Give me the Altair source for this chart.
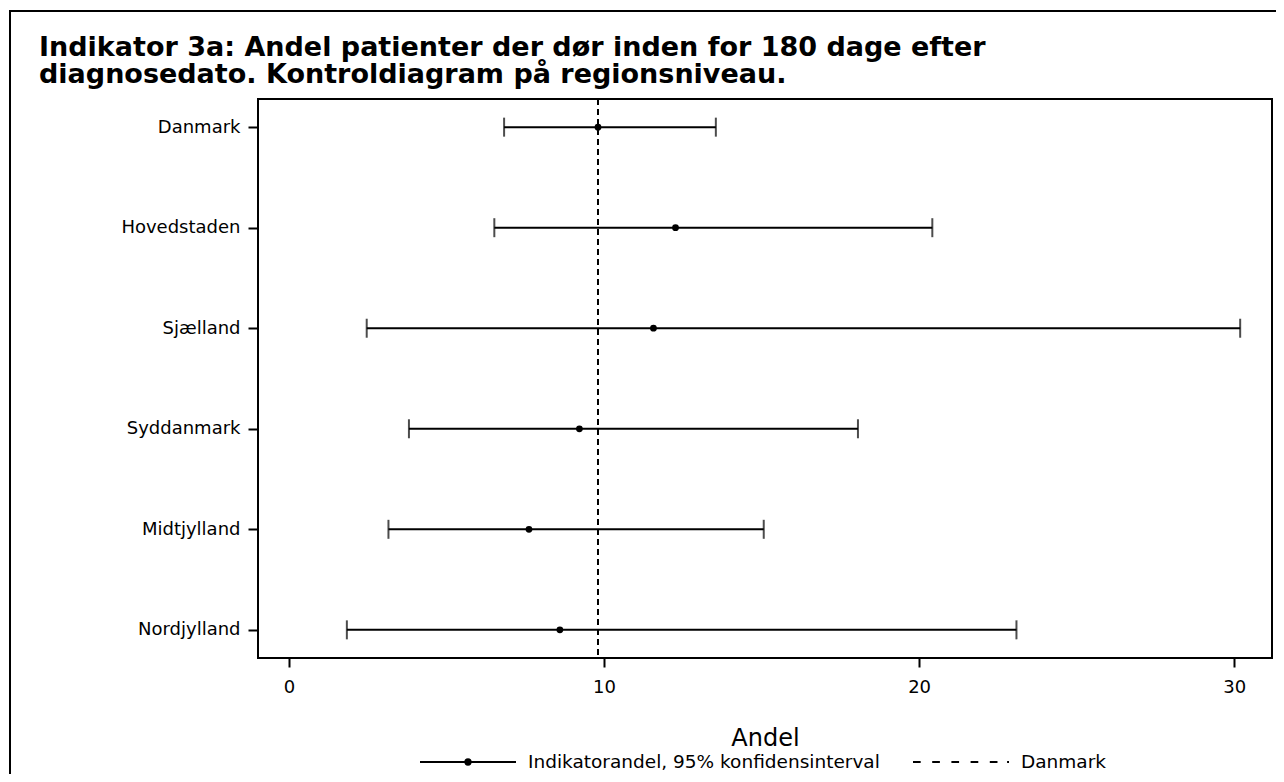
import altair as alt
import pandas as pd

# ---- data ----
regions = ["Danmark", "Hovedstaden", "Sjælland", "Syddanmark", "Midtjylland", "Nordjylland"]
estimates = [9.81, 12.27, 11.57, 9.22, 7.62, 8.60]
lower = [6.83, 6.52, 2.47, 3.81, 3.16, 1.84]
upper = [13.55, 20.42, 30.19, 18.06, 15.07, 23.09]
danmark_ref = [9.81]
x_ticks = [0, 10, 20, 30]
legend_labels = ["Indikatorandel, 95% konfidensinterval", "Danmark"]
title_lines = [
    "Indikator 3a: Andel patienter der dør inden for 180 dage efter",
    "diagnosedato. Kontroldiagram på regionsniveau.",
]

df = pd.DataFrame({"region": regions, "est": estimates, "lo": lower, "hi": upper})
ref_df = pd.DataFrame({"ref": danmark_ref})
leg_df = pd.DataFrame({"serie": legend_labels})
frame_df = pd.DataFrame({"f": [0]})

FONT = "DejaVu Sans"

x_scale = alt.Scale(domain=[-0.98, 31.2], nice=False, zero=False)
y_scale = alt.Scale(type="point", padding=0.28)

x_axis = alt.Axis(
    values=x_ticks, title="Andel", grid=False, domain=False,
    tickColor="black", tickWidth=2, tickSize=9,
    labelFont=FONT, labelFontSize=18, labelColor="black", labelPadding=11,
    titleFont=FONT, titleFontSize=24, titleFontWeight="normal", titleColor="black",
    titlePadding=30,
)
y_axis = alt.Axis(
    title=None, grid=False, domain=False,
    tickColor="black", tickWidth=2, tickSize=10,
    labelFont=FONT, labelFontSize=18, labelColor="black", labelPadding=8,
)

Y = alt.Y("region:N", sort=regions, scale=y_scale, axis=y_axis)

base = alt.Chart(df)

ci = base.mark_rule(color="black", strokeWidth=2).encode(
    x=alt.X("lo:Q", scale=x_scale, axis=x_axis), x2="hi:Q", y=Y
)
cap_lo = base.mark_tick(color="black", thickness=2, size=19).encode(
    x=alt.X("lo:Q", scale=x_scale), y=Y
)
cap_hi = base.mark_tick(color="black", thickness=2, size=19).encode(
    x=alt.X("hi:Q", scale=x_scale), y=Y
)
pts = base.mark_point(filled=True, color="black", size=46, opacity=1).encode(
    x=alt.X("est:Q", scale=x_scale), y=Y
)
ref = alt.Chart(ref_df).mark_rule(color="black", strokeWidth=2, strokeDash=[6, 4]).encode(
    x=alt.X("ref:Q", scale=x_scale)
)

# legend symbols as custom stroked paths (line with dot, dashed line)
path_ci = (
    "M-1,0H1"
    "M-0.055,0A0.055,0.055 0 1,0 0.055,0A0.055,0.055 0 1,0 -0.055,0"
    "M-0.02,0A0.02,0.02 0 1,0 0.02,0A0.02,0.02 0 1,0 -0.02,0"
)
path_dash = "M-1,0H-0.84M-0.6,0H-0.44M-0.2,0H-0.04M0.2,0H0.36M0.6,0H0.76M0.96,0H1"

leg = alt.Chart(leg_df).mark_point(
    opacity=0, filled=False, color="black", strokeWidth=2
).encode(
    shape=alt.Shape(
        "serie:N",
        scale=alt.Scale(domain=legend_labels, range=[path_ci, path_dash]),
        legend=alt.Legend(
            title=None, orient="none", direction="horizontal",
            legendX=161, legendY=653,
            symbolSize=9216, symbolStrokeWidth=2,
            symbolStrokeColor="black", symbolOpacity=1,
            labelFont=FONT, labelFontSize=18.5, labelColor="black", labelLimit=0,
            labelOffset=11, columnPadding=32, clipHeight=20, padding=0,
        ),
    )
)

border = alt.Chart(frame_df).mark_rect(
    fillOpacity=0, stroke="black", strokeWidth=2
).encode(
    x=alt.value(-248), x2=alt.value(1300), y=alt.value(-88), y2=alt.value(900)
)

chart = alt.layer(border, ref, ci, cap_lo, cap_hi, pts, leg).properties(
    width=1014,
    height=559,
    title=alt.TitleParams(
        text=title_lines, anchor="start", frame="group", dx=-219, offset=-79,
        font=FONT, fontSize=27, fontWeight="bold", color="black", lineHeight=27,
    ),
    autosize=alt.AutoSizeParams(type="none"),
    padding={"left": 250, "top": 91, "right": 4, "bottom": 116},
).configure(font=FONT).configure_view(stroke="black", strokeWidth=2)

chart.save("out.html", embed_options={"renderer": "svg", "actions": False})
